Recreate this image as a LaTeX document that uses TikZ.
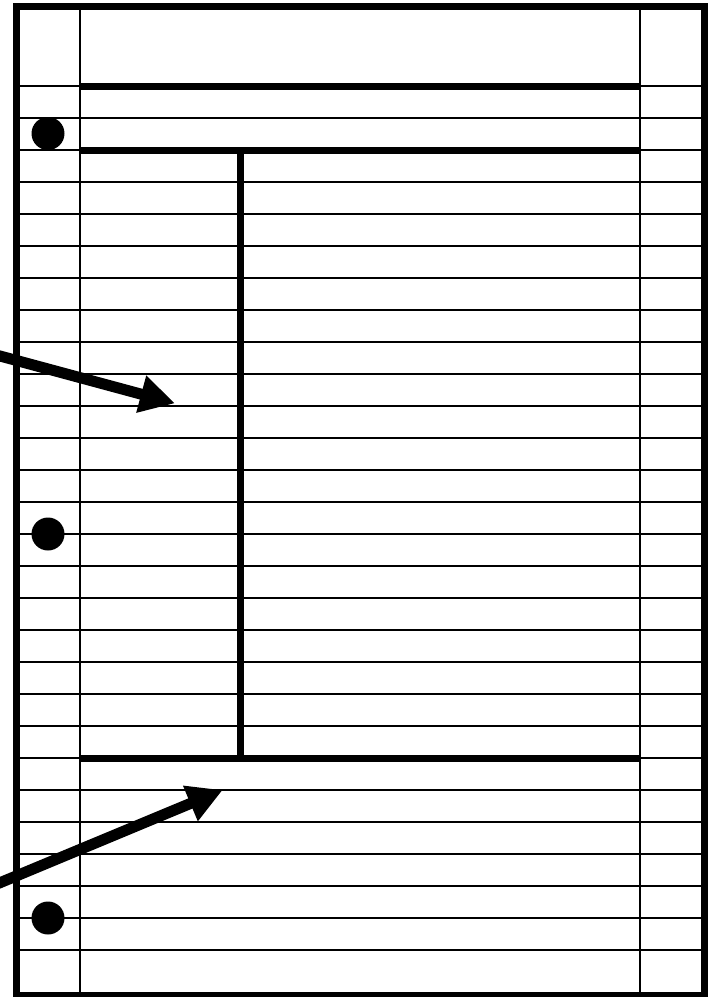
\documentclass[tikz,border=0pt]{standalone}
\usetikzlibrary{arrows.meta}
\begin{document}
\begin{tikzpicture}[x=1pt,y=-1pt,
  thinrule/.style={line width=1.6pt},
  thickrule/.style={line width=7pt},
  frame/.style={line width=7pt},
  hole/.style={fill=black},
  pointer/.style={line width=11pt,-{Triangle[length=35pt,width=36pt]}}]
\clip (0,0) rectangle (711,997);
\fill[white] (0,0) rectangle (711,997);
% thin ruled lines
\foreach \k in {0,...,27}{
  \draw[thinrule] (16,{86+32*\k}) -- (704,{86+32*\k});
}
% margin verticals
\draw[thinrule] (80,6) -- (80,995);
\draw[thinrule] (640,6) -- (640,995);
% thick rules
\draw[thickrule] (80,86) -- (640,86);
\draw[thickrule] (80,150) -- (640,150);
\draw[thickrule] (80,758) -- (640,758);
\draw[thickrule] (240,150) -- (240,758);
% frame
\draw[frame] (16,6) rectangle (704,995);
% holes
\fill[hole] (48,133.5) circle (16.5);
\fill[hole] (48,534) circle (16.5);
\fill[hole] (48,918) circle (16.5);
% arrows
\coordinate (a1s) at (-10,353.3);
\coordinate (a1e) at (175,403.3);
\coordinate (a2s) at (-10,886.9);
\coordinate (a2e) at (222.7,790);
\draw[pointer] (a1s) -- (a1e);
\draw[pointer] (a2s) -- (a2e);
\end{tikzpicture}
\end{document}
